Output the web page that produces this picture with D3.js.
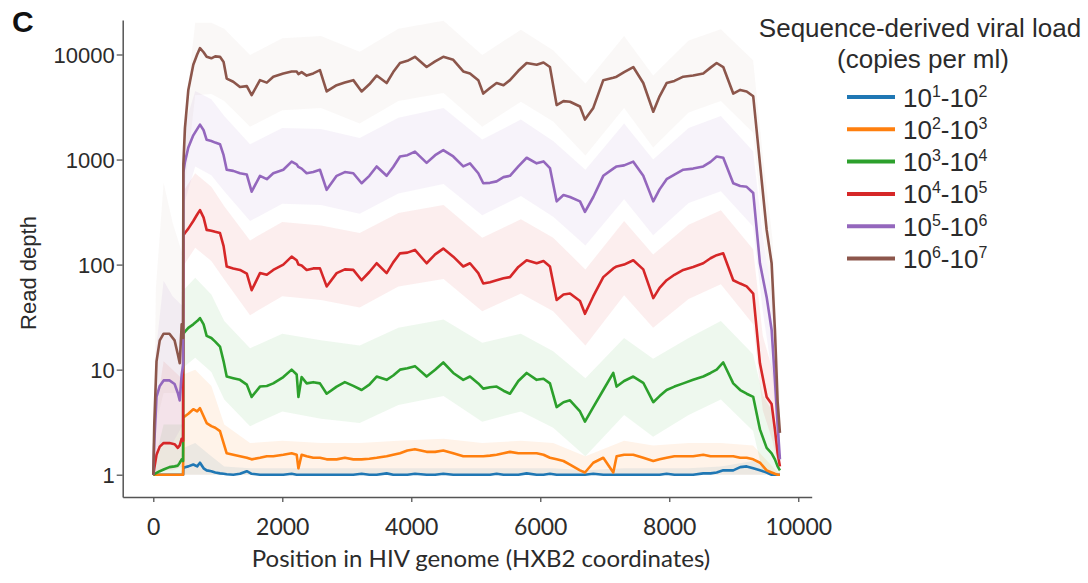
<!DOCTYPE html>
<html><head><meta charset="utf-8">
<script src="https://cdn.jsdelivr.net/npm/d3@7"></script>
<style>body{margin:0;background:#fff}</style>
</head><body>
<svg id="chart" width="1088" height="583"></svg>
<script>
// ---------------- data ----------------
const positions = [0,15,50,100,160,250,330,380,410,440,462,466,491,543,620,680,724,780,827,900,960,1034,1090,1138,1240,1344,1450,1525,1654,1760,1860,2016,2145,2223,2250,2300,2378,2480,2584,2688,2843,2970,3101,3230,3350,3463,3618,3720,3825,3940,4057,4238,4370,4496,4651,4806,4910,5039,5116,5220,5323,5430,5530,5660,5789,5944,6050,6150,6254,6360,6461,6616,6693,6822,6977,7132,7184,7300,7442,7597,7752,7850,7959,8080,8217,8370,8527,8640,8735,8837,8992,9100,9200,9302,9406,9510,9587,9638,9680,9716];

const load1to2 = [1,1,1,1,1,1,1,1,1,1,1,1.15,1.18,1.2,1.25,1.2,1.3,1.15,1.1,1.08,1.05,1.03,1.02,1.01,1.0,1.02,1.08,1.02,1.0,1.0,1.0,1.0,1.02,1.0,1.0,1.0,1.0,1.0,1.0,1.0,1.0,1.0,1.0,1.02,1.0,1.0,1.03,1.0,1.0,1.0,1.02,1.0,1.0,1.02,1.0,1.0,1.0,1.0,1.0,1.0,1.02,1.0,1.0,1.0,1.03,1.0,1.0,1.02,1.0,1.0,1.0,1.0,1.0,1.02,1.0,1.0,1.0,1.0,1.0,1.0,1.0,1.0,1.02,1.0,1.0,1.0,1.03,1.03,1.05,1.1,1.1,1.18,1.2,1.15,1.1,1.05,1.0,1.0,1.0,1.0];
const load2to3 = [1,1,1,1,1,1,1,1,1,1,1,3.5,3.6,3.8,4.2,4.0,4.3,3.6,3.1,2.9,2.8,2.6,2.0,1.6,1.55,1.5,1.45,1.4,1.45,1.5,1.5,1.55,1.6,1.55,1.15,1.55,1.5,1.45,1.45,1.4,1.4,1.45,1.4,1.4,1.42,1.45,1.5,1.55,1.6,1.7,1.75,1.65,1.65,1.7,1.6,1.5,1.5,1.5,1.5,1.52,1.55,1.6,1.65,1.6,1.6,1.6,1.55,1.45,1.4,1.35,1.25,1.1,1.05,1.3,1.45,1.05,1.5,1.55,1.55,1.45,1.35,1.4,1.45,1.5,1.5,1.5,1.55,1.5,1.5,1.5,1.5,1.45,1.45,1.4,1.3,1.1,1.05,1.02,1.0,1.0];
const load3to4 = [1,1.01,1.04,1.08,1.12,1.18,1.2,1.22,1.3,1.4,1.35,22,23,25,27,29,31,27,21,20,18.5,16.6,12,8.6,8.3,8.0,7.2,5.5,6.9,7.0,7.4,8.5,10,9.0,5.5,8.5,7.4,7.6,7.4,5.9,6.9,7.6,7.0,6.4,7.2,8.6,8.0,8.8,10,10.3,10.8,8.6,10,11.7,9.3,8.0,8.6,7.4,6.6,6.8,6.9,6.3,5.9,7.8,9.3,8.0,8.2,7.4,4.4,4.9,5.1,4.0,3.2,4.4,6.4,9.3,6.9,7.8,8.6,7.5,4.9,5.6,6.4,6.9,7.4,8.0,8.6,9.3,10,11.7,7.4,6.4,5.9,5.5,2.7,1.8,1.6,1.4,1.2,1.1];
const load4to5 = [1,1.15,1.55,1.85,2.0,2.0,1.95,1.8,1.9,2.2,2.1,190,200,220,260,300,330,280,214,210,205,200,150,96,92,89,82,57,83,80,89,100,119,110,100,98,89,92,92,62,83,90,89,71,85,103,83,105,128,130,138,103,125,142,119,96,103,83,66,68,71,74,76,95,110,103,108,96,46,52,53,45,34,50,76,92,96,100,110,90,48,60,71,80,89,95,103,115,123,128,71,66,62,53,11.5,5.5,4.7,2.7,1.6,1.2];
const load5to6 = [1,2,5.5,7,7.9,7.9,7.3,6,5.1,9,11,750,950,1300,1700,1950,2150,1900,1540,1500,1450,1400,1100,800,780,740,720,495,700,650,740,800,955,900,850,820,740,760,800,515,700,760,740,595,700,860,700,850,1070,1100,1190,930,1100,1230,1070,860,920,740,595,600,620,680,700,860,1040,920,960,830,400,460,440,400,318,440,700,820,860,880,955,700,400,520,650,720,800,820,860,950,1070,1040,595,560,550,480,103,49,24,8,3,1.4];
const load6to7 = [1,3,12,19,22,22,19,14,11.5,27,20,900,2000,4600,8000,10000,11500,10500,9500,9200,9600,9500,8500,5900,5500,4900,5000,4100,5700,5400,6150,6600,6900,6900,6500,6800,6300,6600,7100,4450,5100,5400,5700,4450,5200,6300,5350,6800,8300,8700,9500,7600,8600,9500,8900,6900,6600,5700,4250,4800,5350,5100,5700,7000,8300,8000,8400,7600,3300,3600,3550,3200,2400,3100,5700,6000,6150,6800,7600,5350,2850,4000,5350,5600,6150,6300,6600,7500,8300,7600,4250,4600,4450,4000,920,214,103,24,5,2.5];

// shaded ranges, sampled more coarsely
const bandPositions = [0,40,160,300,462,466,650,900,1100,1500,2000,2600,3200,3800,4500,5100,5700,6200,6700,7300,7750,8300,8800,9300,9450,9600,9716];
const load1to2Hi = [1,1,1,1,1,1.8,2,1.5,1.2,1.15,1.15,1.15,1.15,1.15,1.15,1.15,1.15,1.15,1.1,1.15,1.15,1.15,1.2,1.35,1.2,1.05,1];
const load1to2Lo = [1,1,1,1,1,1,1,1,1,1,1,1,1,1,1,1,1,1,1,1,1,1,1,1,1,1,1];
const load2to3Hi = [1,1,1,1,1,9,10,7,3,2.0,2.1,2.0,2.0,2.1,2.2,2.0,2.1,2.0,1.5,2.1,1.9,2.0,2.0,1.9,1.5,1.2,1];
const load2to3Lo = [1,1,1,1,1,1,1,1,1,1,1,1,1,1,1,1,1,1,1,1,1,1,1,1,1,1,1];
const load3to4Hi = [1,1.5,3,3,3,57,75,52,29,16,22,19,17,25,30,18,22,15,8.3,20,12.7,20,29,14,5.7,4,2];
const load3to4Lo = [1,1,1,1,1,10.5,13,9.5,5.2,2.9,4,3.4,3.1,4.6,5.6,3.2,4,2.8,1.5,3.7,2.3,3.7,5.2,2.6,1.05,1,1];
const load4to5Hi = [1,4,12,10,8,500,740,550,360,170,255,235,200,310,370,180,270,180,90,260,125,240,330,140,21,10,3];
const load4to5Lo = [1,1,1.1,1.1,1.2,97,145,108,72,33,50,46,39,62,73,36,53,36,17,51,25,47,65,27,4.1,2.1,1];
const load5to6Hi = [1,15,70,50,40,1900,4500,3750,2600,1400,2000,1950,1600,2500,3100,1550,2400,1500,800,2200,1000,2000,2600,1200,190,45,3.5];
const load5to6Lo = [1,1.5,2,2,3,360,860,710,500,260,380,370,305,475,585,295,450,285,152,420,190,385,500,230,36,8.6,1];
const load6to7Hi = [1,60,600,250,120,2000,20000,20000,17600,9900,14300,15000,10600,17600,20900,9900,17200,11000,5300,15000,6300,13600,17400,8800,1100,176,5.5];
const load6to7Lo = [1,3,6,6,6,410,4100,4200,3600,2050,2950,3100,2200,3600,4300,2050,3550,2300,1090,3100,1300,2800,3600,1800,230,36,1.1];

const exponents = [[1,2],[2,3],[3,4],[4,5],[5,6],[6,7]];
const colors = ["#1f77b4","#ff7f0e","#2ca02c","#d62728","#9467bd","#8c564b"];
const bandOpacity = [0.09,0.09,0.08,0.08,0.08,0.045];
const yTicks = [1,10,100,1000,10000];
const xTicks = [0,2000,4000,6000,8000,10000];

const lines = [load1to2,load2to3,load3to4,load4to5,load5to6,load6to7];
const bandsHi = [load1to2Hi,load2to3Hi,load3to4Hi,load4to5Hi,load5to6Hi,load6to7Hi];
const bandsLo = [load1to2Lo,load2to3Lo,load3to4Lo,load4to5Lo,load5to6Lo,load6to7Lo];

// ---------------- drawing ----------------
const svg = d3.select("#chart");
const x = d3.scaleLinear().domain([-474.4, 10208.5]).range([122.7, 811.7]);
const y = d3.scaleLog().domain([0.6134, 21300]).range([497, 20]);

const ink = "#2b2b2b";

// bands
const area = d3.area().x(d => x(d[0])).y0(d => y(d[1])).y1(d => y(d[2]));
bandsHi.forEach((hi, i) => {
  const pts = bandPositions.map((p, j) => [p, bandsLo[i][j], hi[j]]);
  svg.append("path").attr("d", area(pts))
    .attr("fill", colors[i]).attr("fill-opacity", bandOpacity[i]).attr("stroke", "none");
});

// lines
const line = d3.line().x(d => x(d[0])).y(d => y(d[1]));
lines.forEach((vals, i) => {
  const pts = positions.map((p, j) => [p, vals[j]]);
  svg.append("path").attr("d", line(pts))
    .attr("fill", "none").attr("stroke", colors[i]).attr("stroke-width", 2.6)
    .attr("stroke-linejoin", "round");
});

// axes
const yAxis = svg.append("g").attr("transform", "translate(122.7,0)")
  .call(d3.axisLeft(y).tickValues(yTicks).tickFormat(d3.format("d")).tickSize(6).tickSizeOuter(0));
yAxis.select(".domain").attr("stroke", "#555").attr("stroke-width", 1.5);
yAxis.selectAll(".tick line").attr("stroke", "#555").attr("stroke-width", 1.3);
yAxis.selectAll(".tick text").attr("font-family", "Liberation Sans, Arial, sans-serif")
  .attr("font-size", 22).attr("fill", ink).attr("x", -8).attr("dy", "0.36em");

const xAxis = svg.append("g").attr("transform", "translate(0,497)")
  .call(d3.axisBottom(x).tickValues(xTicks).tickFormat(d3.format("d")).tickSize(5).tickSizeOuter(0));
xAxis.select(".domain").attr("stroke", "#555").attr("stroke-width", 1.5);
xAxis.selectAll(".tick line").attr("stroke", "#555").attr("stroke-width", 1.3);
xAxis.selectAll(".tick text").attr("font-family", "Lato, sans-serif")
  .attr("font-size", 23).attr("fill", ink).attr("y", 38).attr("dy", 0);

// titles
svg.append("text").attr("x", 481).attr("y", 567).attr("text-anchor", "middle")
  .attr("font-family", "Lato, sans-serif").attr("font-size", 24).attr("fill", ink)
  .text("Position in HIV genome (HXB2 coordinates)");
svg.append("text").attr("transform", "translate(36,273) rotate(-90)").attr("text-anchor", "middle")
  .attr("font-family", "Liberation Sans, Arial, sans-serif").attr("font-size", 22).attr("fill", ink)
  .text("Read depth");
svg.append("text").attr("x", 12).attr("y", 32)
  .attr("font-family", "Liberation Sans, Arial, sans-serif").attr("font-size", 30)
  .attr("font-weight", "bold").attr("fill", "#111").text("C");

// legend
const lg = svg.append("g").attr("font-family", "Liberation Sans, Arial, sans-serif").attr("fill", ink);
lg.append("text").attr("x", 920).attr("y", 37).attr("text-anchor", "middle").attr("font-size", 26)
  .text("Sequence-derived viral load");
lg.append("text").attr("x", 923).attr("y", 68).attr("text-anchor", "middle").attr("font-size", 26)
  .text("(copies per ml)");
exponents.forEach((e, i) => {
  const cy = 97 + i * 32.3;
  lg.append("line").attr("x1", 847).attr("x2", 895).attr("y1", cy).attr("y2", cy)
    .attr("stroke", colors[i]).attr("stroke-width", 4);
  const t = lg.append("text").attr("x", 903).attr("y", cy + 9.5).attr("font-size", 26);
  t.append("tspan").text("10");
  t.append("tspan").attr("font-size", 16).attr("dy", -10).text(e[0]);
  t.append("tspan").attr("dy", 10).text("-10");
  t.append("tspan").attr("font-size", 16).attr("dy", -10).text(e[1]);
});
</script>
</body></html>
